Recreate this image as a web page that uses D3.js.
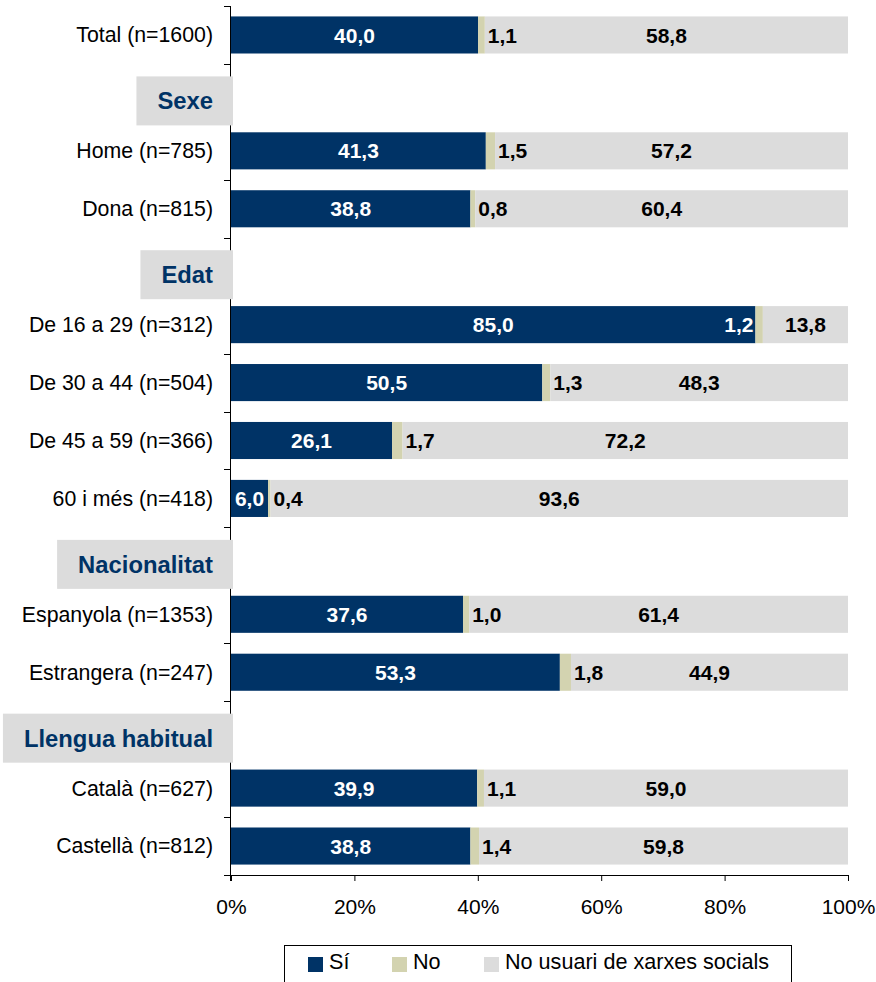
<!DOCTYPE html>
<html>
<head>
<meta charset="utf-8">
<script src="https://cdn.jsdelivr.net/npm/d3@7"></script>
<style>
  html, body { margin: 0; padding: 0; background: #fff; }
  svg { display: block; font-family: Arial, "Liberation Sans", sans-serif; }
</style>
</head>
<body>
<svg id="chart" width="876" height="982"></svg>
<script>
// ---- data ----
const categories = ["Total (n=1600)", "Sexe", "Home (n=785)", "Dona (n=815)", "Edat",
  "De 16 a 29 (n=312)", "De 30 a 44 (n=504)", "De 45 a 59 (n=366)", "60 i més (n=418)",
  "Nacionalitat", "Espanyola (n=1353)", "Estrangera (n=247)", "Llengua habitual",
  "Català (n=627)", "Castellà (n=812)"];
const headers = ["Sexe", "Edat", "Nacionalitat", "Llengua habitual"];
const si       = [40.0, null, 41.3, 38.8, null, 85.0, 50.5, 26.1, 6.0, null, 37.6, 53.3, null, 39.9, 38.8];
const no       = [1.1,  null, 1.5,  0.8,  null, 1.2,  1.3,  1.7,  0.4, null, 1.0,  1.8,  null, 1.1,  1.4];
const noUsuari = [58.8, null, 57.2, 60.4, null, 13.8, 48.3, 72.2, 93.6, null, 61.4, 44.9, null, 59.0, 59.8];
const seriesNames = ["Sí", "No", "No usuari de xarxes socials"];
const tickValues = [0, 20, 40, 60, 80, 100];
const colors = ["#003366", "#d3d3b0", "#dcdcdc"];

// ---- layout ----
const svg = d3.select("#chart");
const x = d3.scaleLinear().domain([0, 100]).range([231, 848]);
const y = d3.scaleBand().domain(d3.range(categories.length)).range([6, 875])
  .paddingInner(0.36).paddingOuter(0.18);
const step = y.step();
const fmt = v => d3.format(".1f")(v).replace(".", ",");

// rows
const rows = categories.map((c, i) => {
  if (si[i] == null) return null;
  const vals = [si[i], no[i], noUsuari[i]];
  const tot = d3.sum(vals);
  let acc = 0;
  const segs = vals.map((v, k) => {
    const s = { k, v, x0: acc / tot * 100, x1: (acc + v) / tot * 100 };
    acc += v;
    return s;
  });
  return { i, c, segs };
}).filter(d => d);

const g = svg.append("g");
rows.forEach(r => {
  const yy = y(r.i), h = y.bandwidth(), cy = yy + h / 2;
  g.selectAll(null).data(r.segs).enter().append("rect")
    .attr("x", d => x(d.x0)).attr("y", yy)
    .attr("width", d => x(d.x1) - x(d.x0)).attr("height", h)
    .attr("fill", d => colors[d.k]);
  // labels
  r.segs.forEach(d => {
    const t = g.append("text").text(fmt(d.v))
      .attr("y", cy).attr("dy", "0.36em")
      .attr("font-size", 21).attr("font-weight", "bold");
    if (d.k === 0) {
      t.attr("x", (x(d.x0) + x(d.x1)) / 2).attr("text-anchor", "middle").attr("fill", "#fff");
    } else if (d.k === 1) {
      const restW = x(100) - x(d.x1);
      if (restW < 120) {
        t.attr("x", x(d.x0) - 2).attr("text-anchor", "end").attr("fill", "#fff");
      } else {
        t.attr("x", x(d.x1) + 3).attr("text-anchor", "start").attr("fill", "#000");
      }
    } else {
      t.attr("x", (x(d.x0) + x(d.x1)) / 2).attr("text-anchor", "middle").attr("fill", "#000");
    }
  });
});

// y axis line and ticks at band boundaries
const ax = svg.append("g").attr("stroke", "#000").attr("stroke-width", 1);
ax.append("line").attr("x1", 230.5).attr("x2", 230.5).attr("y1", 6).attr("y2", 881);
d3.range(categories.length + 1).forEach(k => {
  const yy = Math.round(6 + k * step) + 0.5;
  ax.append("line").attr("x1", 224).attr("x2", 231).attr("y1", yy).attr("y2", yy);
});

// category labels
categories.forEach((c, i) => {
  if (headers.includes(c)) return;
  svg.append("text").text(c)
    .attr("x", 213).attr("y", y(i) + y.bandwidth() / 2).attr("dy", "0.35em")
    .attr("text-anchor", "end").attr("font-size", 21.3).attr("fill", "#000");
});

// header boxes
categories.forEach((c, i) => {
  if (!headers.includes(c)) return;
  const cy = y(i) + y.bandwidth() / 2 + 8;
  const hg = svg.append("g");
  const rect = hg.append("rect").attr("fill", "#dcdcdc");
  const t = hg.append("text").text(c)
    .attr("x", 213).attr("y", cy).attr("dy", "0.36em")
    .attr("text-anchor", "end").attr("font-size", 23.8).attr("font-weight", "bold")
    .attr("fill", "#003366");
  const w = t.node().getComputedTextLength();
  rect.attr("x", 213 - w - 21).attr("y", cy - 24.5).attr("width", w + 41).attr("height", 49);
});

// x axis
const xAxis = d3.axisBottom(x).tickValues(tickValues).tickFormat(d => d + "%")
  .tickSize(6).tickPadding(18);
const xg = svg.append("g").attr("transform", "translate(0,875)").call(xAxis);
xg.select(".domain").attr("d", "M231,0.5H848").attr("stroke", "#000");
xg.selectAll(".tick line").attr("stroke", "#000");
xg.selectAll(".tick text").attr("font-size", 21).attr("fill", "#000")
  .attr("font-family", "Arial, 'Liberation Sans', sans-serif");

// legend
const lg = svg.append("g");
lg.append("rect").attr("x", 284.5).attr("y", 945.5).attr("width", 507).attr("height", 60)
  .attr("fill", "#fff").attr("stroke", "#000").attr("stroke-width", 1);
const legX = [308, 392, 484];
seriesNames.forEach((n, k) => {
  lg.append("rect").attr("x", legX[k]).attr("y", 957).attr("width", 15).attr("height", 15)
    .attr("fill", colors[k]);
  lg.append("text").text(n).attr("x", legX[k] + 21).attr("y", 969)
    .attr("font-size", 21.6).attr("fill", "#000");
});
</script>
</body>
</html>
